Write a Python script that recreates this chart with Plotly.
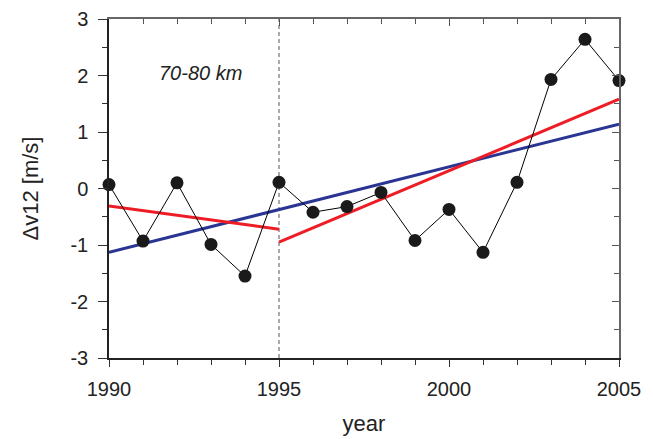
import plotly.graph_objects as go

years = list(range(1990, 2006))
dv12 = [0.07, -0.93, 0.10, -0.99, -1.55, 0.11, -0.42, -0.32, -0.07, -0.92, -0.37, -1.13, 0.11, 1.93, 2.64, 1.91]

trend_all_x = [1990, 2005]
trend_all_y = [-1.13, 1.14]
trend_a_x = [1990, 1995]
trend_a_y = [-0.31, -0.72]
trend_b_x = [1995, 2005]
trend_b_y = [-0.95, 1.58]

split_year = 1995
label_text = "70-80 km"

x_ticks = [1990, 1995, 2000, 2005]
y_ticks = [-3, -2, -1, 0, 1, 2, 3]
y_ticklabels = ["-3", "-2", "-1", "0", "1", "2", "3"]

fig = go.Figure()
fig.add_trace(go.Scatter(x=[split_year, split_year], y=[-3, 3], mode="lines",
                         line=dict(color="#555555", width=1, dash="4px,3px"), showlegend=False))
fig.add_trace(go.Scatter(x=trend_all_x, y=trend_all_y, mode="lines",
                         line=dict(color="#2a3593", width=3), showlegend=False))
fig.add_trace(go.Scatter(x=trend_a_x, y=trend_a_y, mode="lines",
                         line=dict(color="#ee1c25", width=3), showlegend=False))
fig.add_trace(go.Scatter(x=trend_b_x, y=trend_b_y, mode="lines",
                         line=dict(color="#ee1c25", width=3), showlegend=False))
fig.add_trace(go.Scatter(x=years, y=dv12, mode="lines+markers",
                         line=dict(color="black", width=1),
                         marker=dict(color="#1a1a1a", size=13), showlegend=False,
                         cliponaxis=False))
# invisible trace to anchor mirrored axes
fig.add_trace(go.Scatter(x=years, y=dv12, xaxis="x2", yaxis="y2", mode="lines",
                         line=dict(width=0), hoverinfo="skip", showlegend=False, opacity=0))

font = "Liberation Sans, Arial, sans-serif"
fig.add_annotation(x=1992.7, y=2.05, text="<i>" + label_text + "</i>", showarrow=False,
                   font=dict(family=font, size=20, color="#222222"),
                   xanchor="center", yanchor="middle")

fig.update_layout(
    width=653, height=439,
    margin=dict(l=101, r=42, t=11, b=89),
    plot_bgcolor="white", paper_bgcolor="white",
    font=dict(family=font, size=19, color="#222222"),
    xaxis=dict(range=[1990, 2005], tickvals=x_ticks,
               ticks="outside", ticklen=7, tickwidth=1, tickcolor="#333333",
               minor=dict(dtick=1, ticks="outside", ticklen=5, tickcolor="#333333"),
               showline=True, linecolor="#222222", linewidth=1.5, showgrid=False, zeroline=False,
               title=dict(text="year", font=dict(size=22), standoff=17),
               ticklabelstandoff=5, automargin=False,
               tickfont=dict(size=20)),
    yaxis=dict(range=[-3, 3], tickvals=y_ticks, ticktext=y_ticklabels,
               ticks="outside", ticklen=9, tickwidth=1, tickcolor="#333333",
               minor=dict(dtick=0.5, ticks="outside", ticklen=5, tickcolor="#333333"),
               showline=True, linecolor="#222222", linewidth=1.5, showgrid=False, zeroline=False,
               title=dict(text="\u0394v12 [m/s]", font=dict(size=22), standoff=26),
               ticklabelstandoff=6, automargin=False,
               tickfont=dict(size=20)),
    xaxis2=dict(range=[1990, 2005], overlaying="x", side="top", anchor="y",
                tickvals=x_ticks, ticks="inside", ticklen=7, tickcolor="#555555",
                minor=dict(dtick=1, ticks="inside", ticklen=5, tickcolor="#555555"),
                showticklabels=False, showline=True, linecolor="#666666", linewidth=1.5,
                showgrid=False, zeroline=False),
    yaxis2=dict(range=[-3, 3], overlaying="y", side="right", anchor="x",
                tickvals=y_ticks, ticks="inside", ticklen=7, tickcolor="#555555",
                minor=dict(dtick=0.5, ticks="inside", ticklen=5, tickcolor="#555555"),
                showticklabels=False, showline=True, linecolor="#666666", linewidth=1.5,
                showgrid=False, zeroline=False),
)

fig.write_html("out.html")
